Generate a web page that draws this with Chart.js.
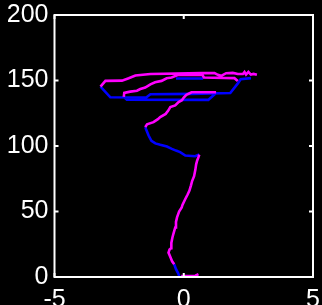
<!DOCTYPE html>
<html>
<head>
<meta charset="utf-8">
<script src="https://cdn.jsdelivr.net/npm/chart.js@4/dist/chart.umd.min.js"></script>
<style>
html,body{margin:0;padding:0;background:#000;overflow:hidden;width:322px;height:305px;}
#wrap{position:absolute;left:0;top:0;width:322px;height:314px;}
</style>
</head>
<body>
<div id="wrap"><canvas id="c"></canvas></div>
<script>
// Axis ticks
const xTicks = [-5, 0, 5];
const yTicks = [0, 50, 100, 150, 200];

// Magenta trace pieces (null separates pieces)
const magentaX = [
  -0.1, 0.2, 0.45, 0.57, null,
  -0.37, -0.45, -0.49, -0.59, -0.55, -0.49, -0.48, -0.44, -0.4, -0.33, -0.3, -0.26, -0.18, -0.08, -0.05, 0.06, 0.15, 0.22, 0.28, 0.32, 0.4, 0.45, 0.48, 0.52, 0.57, 0.6, null,
  -1.49, -1.42, -1.17, -1.0, -0.91, -0.7, -0.6, -0.52, -0.33, -0.2, -0.07, 0.0, 0.1, 0.3, 1.25, null,
  -2.32, -2.3, -2.07, -1.81, -1.68, -1.49, -1.29, -1.11, -0.86, -0.66, -0.47, -0.21, 0.72, 0.78, 1.96, 2.09, null,
  -3.22, -3.03, -2.39, -2.13, -1.87, -1.29, 0.68, 1.19, 1.32, 1.45, 1.64, 1.9, 2.09, 2.29, 2.35, 2.41, 2.5, 2.6, 2.7, 2.83
];
const magentaY = [
  0.8, 0.8, 1.0, 2.2, null,
  9.7, 12, 14, 18.6, 21, 22, 26, 30, 33, 37.8, 42, 45.5, 50, 53, 55, 59.5, 63, 66, 70, 73, 77, 82, 86, 89, 91.5, 93.5, null,
  114.4, 116.5, 118.2, 120.5, 122.1, 124.5, 127, 129.7, 131, 133.6, 135, 137, 139, 141, 141, null,
  137.5, 140.5, 141.5, 142.2, 143.5, 144.6, 147.1, 148.7, 149.7, 151.7, 152.3, 154.3, 154.3, 152.3, 151.8, 149.7, null,
  145.3, 149.7, 149.9, 151.7, 153.8, 155, 155.6, 155.6, 154.3, 153.6, 155.6, 155.8, 155, 155, 156.5, 154.5, 156.5, 154.5, 155, 154.3
];

// Blue trace pieces (null separates pieces)
const blueX = [
  -0.17, -0.22, -0.3, -0.37, null,
  0.6, 0.44, 0.06, -0.14, -0.3, -0.46, -0.65, -0.91, -1.1, -1.25, -1.36, -1.43, -1.49, null,
  -3.22, -2.84, -1.45, -1.29, 0.3, 1.8, 2.1, 2.2, 2.6, null,
  -2.32, -2.2, 0.95, 1.25, null,
  -0.3, 0.75
];
const blueY = [
  0.5, 3, 6, 9.7, null,
  93.5, 92.2, 92.7, 95.3, 96.5, 97.8, 99.6, 100.9, 102, 104, 108, 111.4, 114.4, null,
  145.3, 137.2, 137, 139.5, 139.8, 140.5, 148, 151, 151.8, null,
  137.5, 135.3, 135.2, 140.5, null,
  151.5, 151.5
];

function pts(X, Y) {
  return X.map((x, i) => ({ x: x, y: Y[i] }));
}

const frameTicks = {
  id: 'frameTicks',
  afterDraw(chart) {
    const ctx = chart.ctx;
    const a = chart.chartArea;
    const xs = chart.scales.x, ys = chart.scales.y;
    ctx.save();
    ctx.strokeStyle = '#ffffff';
    ctx.lineWidth = 2;
    ctx.strokeRect(a.left, a.top, a.right - a.left, a.bottom - a.top);
    const L = 4;
    ctx.beginPath();
    xTicks.forEach(v => {
      const px = xs.getPixelForValue(v);
      ctx.moveTo(px, a.bottom); ctx.lineTo(px, a.bottom - L);
      ctx.moveTo(px, a.top); ctx.lineTo(px, a.top + L);
    });
    yTicks.forEach(v => {
      const py = ys.getPixelForValue(v);
      ctx.moveTo(a.left, py); ctx.lineTo(a.left + L, py);
      ctx.moveTo(a.right, py); ctx.lineTo(a.right - L, py);
    });
    ctx.stroke();
    ctx.restore();
  }
};

const fontSpec = { family: '"Liberation Sans", Arial, sans-serif', size: 25 };

new Chart(document.getElementById('c'), {
  type: 'scatter',
  data: {
    datasets: [
      { label: 'magenta', data: pts(magentaX, magentaY), showLine: true, spanGaps: false,
        borderColor: '#ff00ff', borderWidth: 2.6, pointRadius: 0, fill: false, tension: 0 },
      { label: 'blue', data: pts(blueX, blueY), showLine: true, spanGaps: false,
        borderColor: '#0000ff', borderWidth: 2.6, pointRadius: 0, fill: false, tension: 0 }
    ]
  },
  options: {
    responsive: true,
    maintainAspectRatio: false,
    animation: false,
    layout: { padding: { left: 0, right: 9, top: 15, bottom: 0 } },
    plugins: { legend: { display: false }, tooltip: { enabled: false } },
    scales: {
      x: {
        type: 'linear', min: -5, max: 5,
        afterBuildTicks: s => { s.ticks = xTicks.map(v => ({ value: v })); },
        afterFit: s => { s.height = 37; s.paddingLeft = 0; s.paddingRight = 0; s.paddingTop = 0; s.paddingBottom = 0; },
        grid: { display: false, drawTicks: false },
        border: { display: false },
        ticks: { color: '#ffffff', padding: 8, maxRotation: 0, font: fontSpec }
      },
      y: {
        type: 'linear', min: 0, max: 200,
        afterBuildTicks: s => { s.ticks = yTicks.map(v => ({ value: v })); },
        afterFit: s => { s.width = 54.5; s.paddingLeft = 0; s.paddingRight = 0; s.paddingTop = 0; s.paddingBottom = 0; },
        grid: { display: false, drawTicks: false },
        border: { display: false },
        ticks: { color: '#ffffff', padding: 6, font: fontSpec }
      }
    }
  },
  plugins: [frameTicks]
});
</script>
</body>
</html>
